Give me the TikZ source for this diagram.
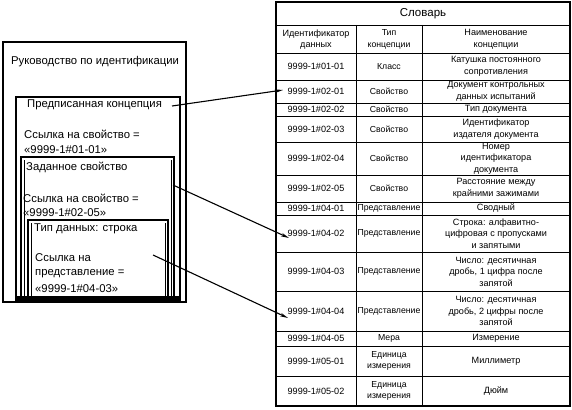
\documentclass[tikz,border=0pt]{standalone}
\usepackage{fontspec}
\setmainfont{Liberation Sans}
\usetikzlibrary{arrows.meta}
\tikzset{
  lbl/.style={anchor=west,inner sep=0pt,font=\fontsize{11.3}{14}\selectfont},
  cell/.style={align=center,inner sep=0pt,font=\fontsize{9.1}{11.5}\selectfont},
  cellm/.style={cell,font=\fontsize{8.7}{11.5}\selectfont},
  tline/.style={line width=0.8pt},
  frame/.style={line width=1.3pt},
  conn/.style={line width=1.1pt,-{Stealth[length=8pt,width=3.5pt]}}
}
\begin{document}
\begin{tikzpicture}[x=1pt,y=-1pt]
\useasboundingbox (0,0) rectangle (572,409);
% ---------- left boxes ----------
\draw[frame] (3,42) rectangle (186,302);
\draw[line width=1.3pt] (16,97) rectangle (180,300);
\draw[line width=1.1pt] (21,157) rectangle (174,300);
\draw[line width=0.7pt] (24,160) -- (24,300);
\draw[line width=0.7pt] (171,160) -- (171,300);
\draw[line width=1.1pt] (28,220) rectangle (168,300);
\draw[line width=0.7pt] (31,223) -- (31,300);
\draw[line width=0.7pt] (165,223) -- (165,300);
\fill (16,296) rectangle (180,301);
\node[lbl] (guide) at (11,62) {Руководство по идентификации};
\node[lbl] (presc) at (27,105) {Предписанная концепция};
\node[lbl] (ref1a) at (24,134) {Ссылка на свойство =};
\node[lbl] (ref1b) at (24,150) {«9999-1\#01-01»};
\node[lbl] (given) at (26,167) {Заданное свойство};
\node[lbl] (ref2a) at (23,198) {Ссылка на свойство =};
\node[lbl] (ref2b) at (23,213) {«9999-1\#02-05»};
\node[lbl] (dtype) at (34,229) {Тип данных: строка};
\node[lbl] (ref3a) at (35,258) {Ссылка на};
\node[lbl] (ref3b) at (35,273.5) {представление =};
\node[lbl] (ref3c) at (35,289) {«9999-1\#04-03»};
% ---------- table ----------
\draw[frame] (276,2) rectangle (570,406);
\foreach \y in {25,53,80,103,116,142,175,202,215,252,291,331,346,376}
  \draw[tline] (276,\y) -- (570,\y);
\draw[tline] (356,25) -- (356,406);
\draw[tline] (422,25) -- (422,406);
\node[cell,font=\fontsize{11.5}{13}\selectfont] (title) at (423,14) {Словарь};
\node[cell] (h1) at (316,39.5) {Идентификатор\\данных};
\node[cellm] (h2) at (389,39.5) {Тип\\концепции};
\node[cell] (h3) at (496,39.5) {Наименование\\концепции};
% rows
\node[cell] (r1a) at (316,66.5) {9999-1\#01-01};
\node[cellm] (r1b) at (389,66.5) {Класс};
\node[cell] (r1c) at (496,66.5) {Катушка постоянного\\сопротивления};
\node[cell] (r2a) at (316,91.5) {9999-1\#02-01};
\node[cellm] (r2b) at (389,91.5) {Свойство};
\node[cell] (r2c) at (496,91.5) {Документ контрольных\\данных испытаний};
\node[cell] (r3a) at (316,109.5) {9999-1\#02-02};
\node[cellm] (r3b) at (389,109.5) {Свойство};
\node[cell] (r3c) at (496,109.5) {Тип документа};
\node[cell] (r4a) at (316,129) {9999-1\#02-03};
\node[cellm] (r4b) at (389,129) {Свойство};
\node[cell] (r4c) at (496,129) {Идентификатор\\издателя документа};
\node[cell] (r5a) at (316,158.5) {9999-1\#02-04};
\node[cellm] (r5b) at (389,158.5) {Свойство};
\node[cell] (r5c) at (496,158.5) {Номер\\идентификатора\\документа};
\node[cell] (r6a) at (316,188.5) {9999-1\#02-05};
\node[cellm] (r6b) at (389,188.5) {Свойство};
\node[cell] (r6c) at (496,188.5) {Расстояние между\\крайними зажимами};
\node[cell] (r7a) at (316,208.5) {9999-1\#04-01};
\node[cellm] (r7b) at (389,208.5) {Представление};
\node[cell] (r7c) at (496,208.5) {Сводный};
\node[cell] (r8a) at (316,233.5) {9999-1\#04-02};
\node[cellm] (r8b) at (389,233.5) {Представление};
\node[cell] (r8c) at (496,233.5) {Строка: алфавитно-\\цифровая с пропусками\\и запятыми};
\node[cell] (r9a) at (316,271.5) {9999-1\#04-03};
\node[cellm] (r9b) at (389,271.5) {Представление};
\node[cell] (r9c) at (496,271.5) {Число: десятичная\\дробь, 1 цифра после\\запятой};
\node[cell] (r10a) at (316,311) {9999-1\#04-04};
\node[cellm] (r10b) at (389,311) {Представление};
\node[cell] (r10c) at (496,311) {Число: десятичная\\дробь, 2 цифры после\\запятой};
\node[cell] (r11a) at (316,338.5) {9999-1\#04-05};
\node[cellm] (r11b) at (389,338.5) {Мера};
\node[cell] (r11c) at (496,338.5) {Измерение};
\node[cell] (r12a) at (316,361) {9999-1\#05-01};
\node[cellm] (r12b) at (389,361) {Единица\\измерения};
\node[cell] (r12c) at (496,361) {Миллиметр};
\node[cell] (r13a) at (316,391) {9999-1\#05-02};
\node[cellm] (r13b) at (389,391) {Единица\\измерения};
\node[cell] (r13c) at (496,391) {Дюйм};
% ---------- connectors ----------
\coordinate (s1) at (172,106);
\coordinate (e1) at (283,90);
\coordinate (s2) at (173,185);
\coordinate (e2) at (289,238);
\coordinate (s3) at (153,255);
\coordinate (e3) at (288,318);
\draw[conn] (s1) -- (e1);
\draw[conn] (s2) -- (e2);
\draw[conn] (s3) -- (e3);
\end{tikzpicture}
\end{document}
